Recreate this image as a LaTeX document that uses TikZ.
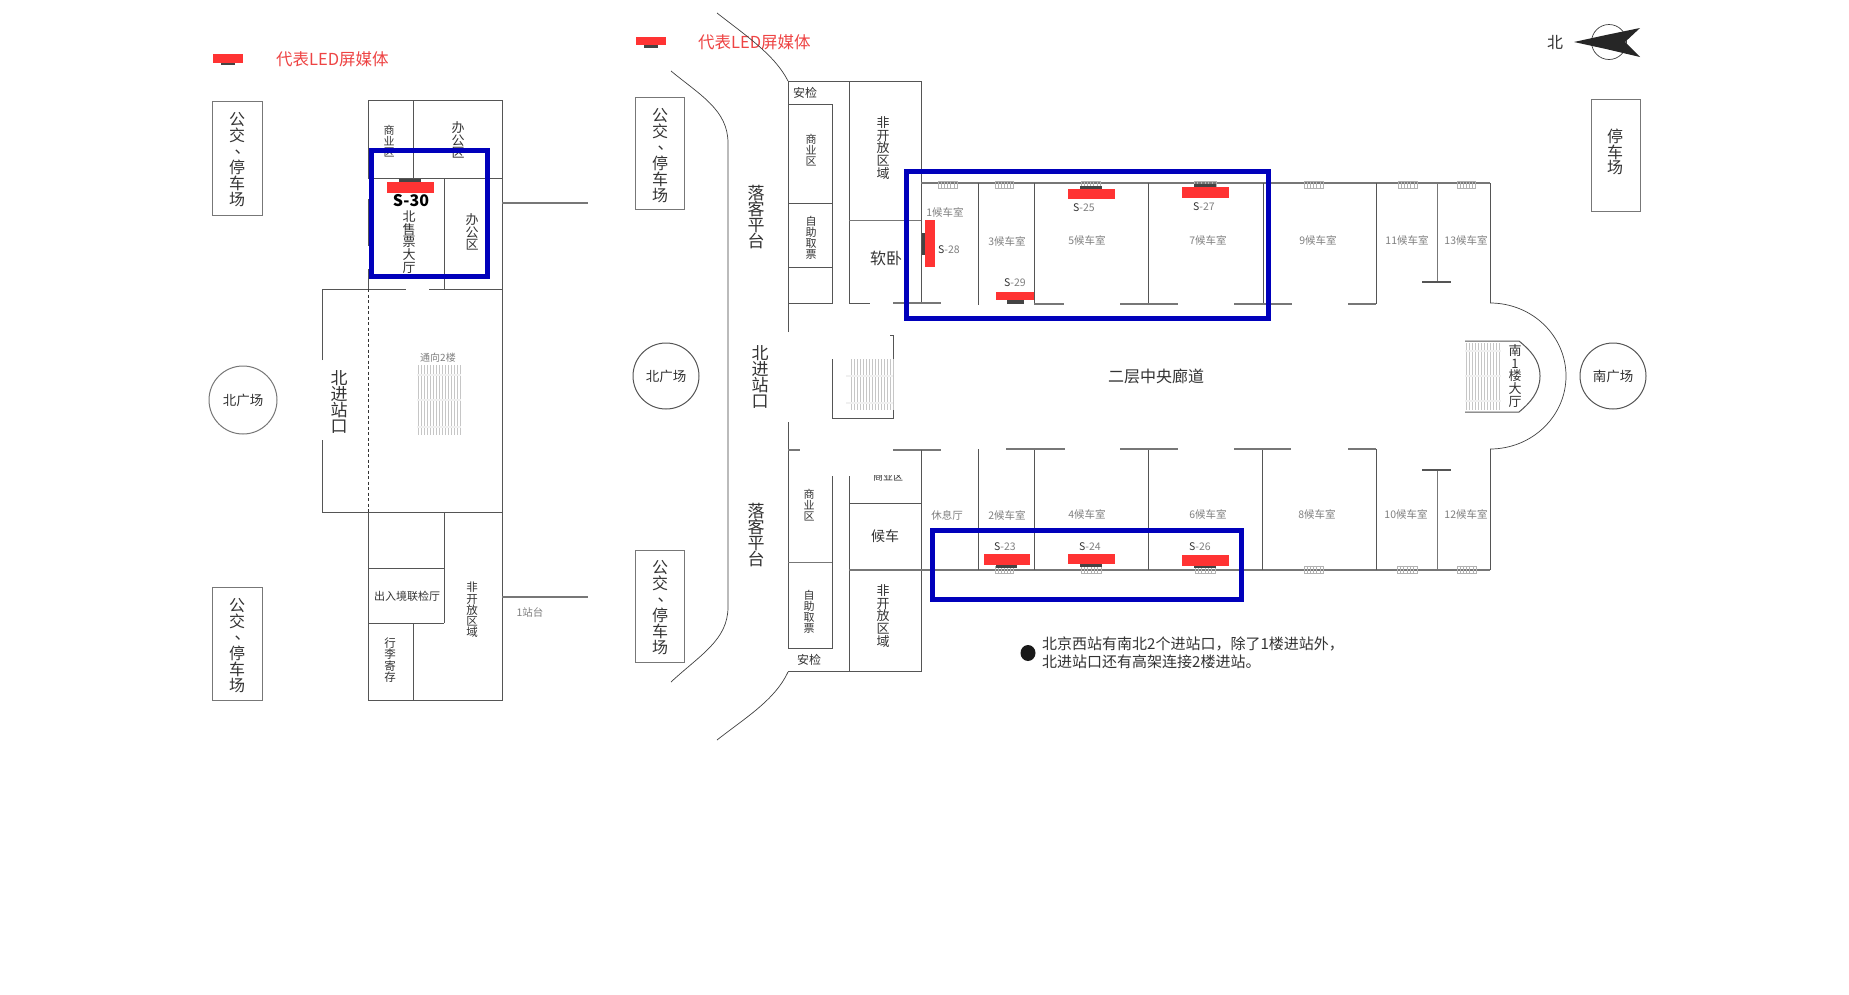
\documentclass[tikz,border=0pt]{standalone}
\usepackage{fontspec}
\setmainfont{Noto Sans CJK SC}
\definecolor{wallc}{HTML}{555555}
\definecolor{wallg}{HTML}{777777}
\definecolor{txtd}{HTML}{333333}
\definecolor{txtg}{HTML}{808080}
\definecolor{ledred}{HTML}{FF3333}
\definecolor{legred}{HTML}{EE4444}
\definecolor{blueb}{HTML}{0000BB}
\definecolor{scrd}{HTML}{444444}
\tikzset{
  tx/.style 2 args={font=\fontsize{#1}{#2}\selectfont, inner sep=0pt, align=center, text=txtd},
  lbl/.style={tx={10.5}{13}, text=txtg},
  wall/.style={draw=wallc, line width=1pt},
  thin wall/.style={draw=wallg, line width=0.8pt},
  thick wall/.style={draw=wallg, line width=1.6pt},
  fine/.style={draw=black!75, line width=0.7pt},
  blue box/.style={draw=blueb, line width=5pt},
  led/.style={fill=ledred},
  ledbase/.style={fill=scrd},
}
\newcommand{\dunhao}{\raisebox{.3em}{\hspace{.35em}、\hspace{-.35em}}}
\newcommand{\sscr}[2]{{\color{black!80}#1}{\color{txtg}#2}}
\newcommand{\winH}[3]{% x1 x2 y
  \draw[gray!60,line width=0.5pt] (#1,#3-3) rectangle (#2,#3+4);
  \pgfmathsetmacro{\wstep}{(#2-#1)/6}
  \foreach \wi in {1,...,5} \draw[gray!60,line width=0.4pt] (#1+\wi*\wstep,#3-3) -- (#1+\wi*\wstep,#3+4);
}
\newcommand{\stairset}[4]{% x1 x2 y1 y2
  \pgfmathtruncatemacro{\sxb}{#1+3}
  \foreach \sx in {#1,\sxb,...,#2} \draw[gray!45,line width=0.45pt] (\sx,#3) -- (\sx,#4);
}
\newcommand{\stairband}[3]{\fill[gray!12] (#1,#3-1.2) rectangle (#2,#3+1.2);}
\begin{document}
\begin{tikzpicture}[x=1pt,y=-1pt]
\useasboundingbox (0,0) rectangle (1849,994);
\fill[white] (0,0) rectangle (1849,994);

% ===== left plan =====
\node[tx={16.5}{18},text=legred,anchor=west] (legL) at (276,59) {代表LED屏媒体};
\fill[led] (213,54) rectangle (243,63);
\fill[ledbase] (221,63) rectangle (235,65);

\draw[thin wall] (212,101) rectangle (262,215);
\node[tx={16}{16}] (busA) at (237,160) {公\\交\\\dunhao\\停\\车\\场};
\draw[thin wall] (212,587) rectangle (262,700);
\node[tx={16}{16}] (busB) at (237,646) {公\\交\\\dunhao\\停\\车\\场};

\draw[wall] (368,178) -- (368,100) -- (502,100) -- (502,700) -- (368,700) -- (368,512);
\draw[wall] (368,199) -- (368,246);
\draw[wall] (368,269) -- (368,289);
\draw[wall] (413,100) -- (413,178);
\draw[wall] (368,178) -- (502,178);
\draw[wall] (444,178) -- (444,289);
\draw[wall] (322,360) -- (322,289) -- (406,289);
\draw[wall] (429,289) -- (502,289);
\draw[wall] (322,440) -- (322,512) -- (502,512);
\draw[draw=black!80,line width=0.8pt,dash pattern=on 3pt off 2.5pt] (368,289) -- (368,512);
\draw[wall] (444,512) -- (444,623);
\draw[wall] (368,568) -- (444,568);
\draw[wall] (368,623) -- (444,623);
\draw[wall] (413,623) -- (413,700);
\draw[thick wall] (502,203) -- (588,203);
\draw[thick wall] (502,597) -- (588,597);

\node[tx={11}{11}] (shangL) at (389,141) {商\\业\\区};
\node[tx={13}{12.4}] (banL1) at (458,140) {办\\公\\区};
\node[tx={13}{12.6}] (banL2) at (472,232) {办\\公\\区};
\node[tx={13}{12.8}] (shou) at (409,242) {北\\售\\票\\大\\厅};
\fill[ledbase] (399,179) rectangle (421,182);
\fill[led] (387,182) rectangle (434,193);
\node[inner sep=0pt,font=\fontsize{16}{18}\selectfont\bfseries,text=black] (s30) at (411,201) {S-30};
\node[tx={17}{16}] (ninL) at (339,402) {北\\进\\站\\口};
\draw[wall,draw=wallg] (243,400) circle (34);
\node[tx={13.5}{15}] (bgL) at (243,400) {北广场};
\node[tx={10}{12},text=txtg] (tong) at (438,358) {通向2楼};
\stairset{418}{460}{365}{435}
\stairband{417}{461}{375}\stairband{417}{461}{400}\stairband{417}{461}{427}
\node[tx={11}{13}] (crj) at (407,596) {出入境联检厅};
\node[tx={11.5}{11.2}] (feiL) at (472,610) {非\\开\\放\\区\\域};
\node[tx={11.5}{11.4}] (xing) at (390,660) {行\\李\\寄\\存};
\node[lbl] (zt) at (530,612) {1站台};

% ===== right plan =====
\node[tx={16.5}{18},text=legred,anchor=west] (legR) at (698,42) {代表LED屏媒体};
\fill[led] (636,37) rectangle (666,45);
\fill[ledbase] (644,45) rectangle (658,48);

\draw[fine] (717,13) .. controls (745,35) and (775,55) .. (788,81);
\draw[fine] (671,71) .. controls (700,95) and (728,110) .. (728,143) -- (728,607) .. controls (728,640) and (700,655) .. (671,682);
\draw[fine] (788,672) .. controls (775,700) and (745,718) .. (717,740);

\draw[thin wall] (635,97) rectangle (684,209);
\node[tx={16}{16}] (busC) at (660,156) {公\\交\\\dunhao\\停\\车\\场};
\draw[thin wall] (635,550) rectangle (684,662);
\node[tx={16}{16}] (busD) at (660,608) {公\\交\\\dunhao\\停\\车\\场};

\node[tx={17}{16}] (luoA) at (756,217) {落\\客\\平\\台};
\node[tx={17}{16}] (luoB) at (756,535) {落\\客\\平\\台};
\node[tx={17}{16}] (ninR) at (760,377) {北\\进\\站\\口};
\draw[wall] (666,376) circle (33);
\node[tx={13.5}{15}] (bgR) at (666,376) {北广场};

% north wing west blocks
\draw[wall] (788,332) -- (788,81) -- (921,81) -- (921,303);
\draw[wall] (788,104) -- (832,104) -- (832,303) -- (788,303);
\draw[wall] (788,203) -- (832,203);
\draw[wall] (788,267) -- (832,267);
\draw[wall] (849,81) -- (849,303) -- (870,303);
\draw[thin wall] (849,220) -- (921,220);
\draw[thick wall] (893,303) -- (941,303);
\node[tx={12}{14}] (anA) at (805,93) {安检};
\node[tx={11}{11}] (shR1) at (811,150) {商\\业\\区};
\node[tx={11}{11}] (ziR1) at (811,238) {自\\助\\取\\票};
\node[tx={13}{12.6}] (feiR1) at (883,148) {非\\开\\放\\区\\域};
\node[tx={16}{17}] (ruan) at (886,258) {软卧};

% central stair
\draw[wall] (832,359) -- (832,418) -- (893,418) -- (893,335) -- (890,335);
\stairset{851}{893}{359}{410}
\stairband{846}{893}{376}\stairband{846}{893}{403}

% south wing west blocks
\draw[wall] (788,422) -- (788,648) -- (832,648) -- (832,476);
\draw[thick wall] (788,450) -- (800,450);
\draw[thick wall] (893,450) -- (941,450);
\draw[thin wall] (788,562) -- (832,562);
\draw[wall] (849,476) -- (849,671);
\draw[wall] (921,450) -- (921,671) -- (788,671);
\draw[wall] (849,503) -- (921,503);
\node[tx={10}{12}] (shR3) at (888,477) {商业区};
\fill[white] (850,466) rectangle (920,474.5);
\node[tx={11}{11}] (shR2) at (809,505) {商\\业\\区};
\node[tx={11}{11}] (ziR2) at (809,612) {自\\助\\取\\票};
\node[tx={14}{15}] (hou) at (885,536) {候车};
\node[tx={13}{12.6}] (feiR2) at (883,616) {非\\开\\放\\区\\域};
\node[tx={12}{14}] (anB) at (809,660) {安检};

% top row
\draw[thick wall] (921,183) -- (1490,183);
\draw[wall] (1490,183) -- (1490,303);
\draw[wall] (978,183) -- (978,305);
\draw[wall] (1034,183) -- (1034,304);
\draw[wall] (1148,183) -- (1148,304);
\draw[wall] (1263,183) -- (1263,304);
\draw[wall] (1376,183) -- (1376,304);
\draw[thin wall] (1437,183) -- (1437,282);
\draw[thick wall] (1034,304) -- (1064,304);
\draw[thick wall] (1120,304) -- (1178,304);
\draw[thick wall] (1234,304) -- (1292,304);
\draw[thick wall] (1348,304) -- (1376,304);
\draw[thick wall,draw=wallc,line width=1.2pt] (1422,282) -- (1451,282);
% bottom row
\draw[thick wall] (849,570) -- (1490,570);
\draw[wall] (1490,570) -- (1490,449);
\draw[wall] (978,449) -- (978,570);
\draw[wall] (1034,449) -- (1034,570);
\draw[wall] (1148,449) -- (1148,570);
\draw[wall] (1262,449) -- (1262,570);
\draw[wall] (1376,449) -- (1376,570);
\draw[thin wall] (1437,470) -- (1437,570);
\draw[thick wall] (1006,449) -- (1065,449);
\draw[thick wall] (1120,449) -- (1178,449);
\draw[thick wall] (1234,449) -- (1291,449);
\draw[thick wall] (1348,449) -- (1376,449);
\draw[thick wall,draw=wallc,line width=1.2pt] (1422,470) -- (1451,470);
% rotunda
\draw[fine] (1490,303) arc[start angle=-90,end angle=90,x radius=76,y radius=73];
\draw[wall] (1465,341) -- (1519,341) .. controls (1530,350) and (1540,360) .. (1540,376) .. controls (1540,392) and (1530,403) .. (1519,412) -- (1465,412);
\stairset{1466}{1501}{343}{410}
\stairband{1465}{1501}{351}\stairband{1465}{1501}{376}\stairband{1465}{1501}{401}
\node[tx={13}{12.8}] (nanL) at (1515,376) {南\\1\\楼\\大\\厅};
\draw[wall] (1613,376) circle (33);
\node[tx={13.5}{15}] (ngc) at (1613,376) {南广场};
\node[tx={16}{18}] (lang) at (1156,376) {二层中央廊道};

% windows
\winH{938}{957}{184}\winH{995}{1013}{184}\winH{1081}{1100}{184}\winH{1194}{1216}{184}
\winH{1304}{1323}{184}\winH{1398}{1417}{184}\winH{1457}{1475}{184}
\winH{995}{1013}{569}\winH{1081}{1101}{569}\winH{1195}{1215}{569}
\winH{1304}{1323}{569}\winH{1397}{1417}{569}\winH{1457}{1476}{569}

% room labels
\node[lbl] (r1) at (945,212) {1候车室};
\node[lbl] (r3) at (1007,241) {3候车室};
\node[lbl] (r5) at (1087,240) {5候车室};
\node[lbl] (r7) at (1208,240) {7候车室};
\node[lbl] (r9) at (1318,240) {9候车室};
\node[lbl] (r11) at (1407,240) {11候车室};
\node[lbl] (r13) at (1466,240) {13候车室};
\node[lbl] (rest) at (947,515) {休息厅};
\node[lbl] (r2) at (1007,515) {2候车室};
\node[lbl] (r4) at (1087,514) {4候车室};
\node[lbl] (r6) at (1208,514) {6候车室};
\node[lbl] (r8) at (1317,514) {8候车室};
\node[lbl] (r10) at (1406,514) {10候车室};
\node[lbl] (r12) at (1466,514) {12候车室};

% screens
\fill[ledbase] (922,233) rectangle (925,255);
\fill[led] (925,220) rectangle (935,267);
\node[lbl] (s28) at (949,250) {\sscr{S}{-28}};
\fill[ledbase] (1007,300) rectangle (1024,304);
\fill[led] (996,292) rectangle (1034,300);
\node[lbl] (s29) at (1015,283) {\sscr{S}{-29}};
\fill[ledbase] (1080,186) rectangle (1102,189);
\fill[led] (1068,189) rectangle (1115,199);
\node[lbl] (s25) at (1084,208) {\sscr{S}{-25}};
\fill[ledbase] (1194,184) rectangle (1216,187);
\fill[led] (1182,187) rectangle (1229,198);
\node[lbl] (s27) at (1204,207) {\sscr{S}{-27}};
\fill[ledbase] (996,565) rectangle (1017,568);
\fill[led] (984,554) rectangle (1030,565);
\node[lbl] (s23) at (1005,547) {\sscr{S}{-23}};
\fill[ledbase] (1080,564) rectangle (1102,567);
\fill[led] (1068,554) rectangle (1115,564);
\node[lbl] (s24) at (1090,547) {\sscr{S}{-24}};
\fill[ledbase] (1194,566) rectangle (1216,568);
\fill[led] (1182,555) rectangle (1229,566);
\node[lbl] (s26) at (1200,547) {\sscr{S}{-26}};

% note
\fill[black!90] (1028,653) ellipse (7.5 and 8);
\node[tx={15}{18},anchor=west,align=left] (note) at (1042,653) {北京西站有南北2个进站口，除了1楼进站外，\\北进站口还有高架连接2楼进站。};

% north arrow and south car park
\node[tx={16}{17}] (bei) at (1555,42) {北};
\draw[fine] (1609,42) circle (17.5);
\fill[black!85] (1574,42) -- (1606,35) -- (1640,28) -- (1625,42) -- (1640,57) -- (1606,49) -- cycle;
\draw[thin wall] (1591,99) rectangle (1640,211);
\node[tx={16}{15.5}] (tc) at (1615,152) {停\\车\\场};

% blue highlight boxes
\draw[blue box] (371.5,150.5) rectangle (487.5,276.5);
\draw[blue box] (906.5,171.5) rectangle (1268.5,318.5);
\draw[blue box] (932.5,530.5) rectangle (1241.5,599.5);
\end{tikzpicture}
\end{document}
